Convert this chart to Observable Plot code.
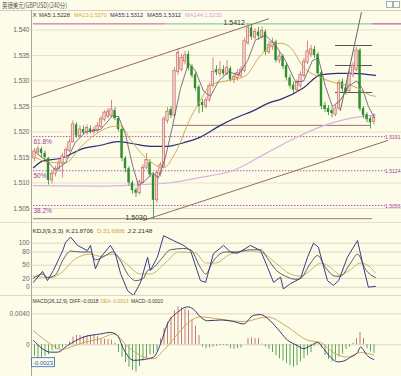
<!DOCTYPE html>
<html><head><meta charset="utf-8">
<script src="https://cdn.jsdelivr.net/npm/d3@7"></script>
<script src="https://cdn.jsdelivr.net/npm/@observablehq/plot@0.6"></script>
<style>
html,body{margin:0;padding:0;background:#fdfce9;}
#wrap{position:relative;width:401px;height:376px;overflow:hidden;background:#fdfce9;}
#wrap svg{position:absolute;left:0;}
</style></head><body><div id="wrap"></div>
<script>
// ---------- candle data (240-minute bars) ----------
const opens  = [1.5148,1.5160,1.5166,1.5158,1.5148,1.5105,1.5118,1.5128,1.5138,1.5150,1.5163,1.5180,1.5214,1.5192,1.5205,1.5198,1.5206,1.5200,1.5202,1.5210,1.5224,1.5230,1.5232,1.5242,1.5226,1.5205,1.5148,1.5128,1.5100,1.5086,1.5080,1.5100,1.5130,1.5140,1.5116,1.5066,1.5118,1.5132,1.5222,1.5244,1.5232,1.5318,1.5322,1.5338,1.5352,1.5328,1.5312,1.5288,1.5258,1.5250,1.5262,1.5290,1.5322,1.5314,1.5322,1.5314,1.5324,1.5302,1.5306,1.5310,1.5320,1.5374,1.5404,1.5385,1.5396,1.5386,1.5396,1.5356,1.5366,1.5376,1.5340,1.5348,1.5330,1.5306,1.5292,1.5282,1.5290,1.5310,1.5336,1.5352,1.5362,1.5352,1.5316,1.5252,1.5246,1.5242,1.5234,1.5246,1.5298,1.5286,1.5280,1.5312,1.5322,1.5360,1.5246,1.5234,1.5226,1.5220];
const highs  = [1.5168,1.5172,1.5170,1.5163,1.5150,1.5122,1.5133,1.5146,1.5158,1.5170,1.5186,1.5222,1.5218,1.5212,1.5212,1.5214,1.5212,1.5210,1.5218,1.5230,1.5242,1.5246,1.5262,1.5248,1.5230,1.5208,1.5152,1.5132,1.5104,1.5090,1.5106,1.5136,1.5158,1.5146,1.5120,1.5124,1.5140,1.5230,1.5248,1.5250,1.5326,1.5364,1.5352,1.5358,1.5358,1.5332,1.5316,1.5292,1.5264,1.5268,1.5296,1.5345,1.5330,1.5338,1.5330,1.5340,1.5328,1.5314,1.5322,1.5328,1.5384,1.5412,1.5410,1.5402,1.5405,1.5406,1.5400,1.5378,1.5384,1.5380,1.5356,1.5352,1.5334,1.5312,1.5298,1.5302,1.5318,1.5344,1.5378,1.5370,1.5368,1.5356,1.5320,1.5258,1.5252,1.5248,1.5252,1.5302,1.5304,1.5292,1.5320,1.5336,1.5366,1.5364,1.5250,1.5238,1.5230,1.5236];
const lows   = [1.5142,1.5155,1.5150,1.5145,1.5096,1.5098,1.5112,1.5122,1.5110,1.5146,1.5160,1.5178,1.5188,1.5188,1.5194,1.5193,1.5196,1.5195,1.5198,1.5206,1.5220,1.5226,1.5228,1.5222,1.5200,1.5142,1.5120,1.5094,1.5078,1.5072,1.5076,1.5098,1.5126,1.5110,1.5030,1.5060,1.5112,1.5128,1.5216,1.5226,1.5228,1.5312,1.5318,1.5332,1.5320,1.5305,1.5280,1.5236,1.5238,1.5245,1.5258,1.5286,1.5310,1.5308,1.5310,1.5310,1.5298,1.5295,1.5300,1.5305,1.5316,1.5370,1.5380,1.5380,1.5380,1.5382,1.5350,1.5352,1.5360,1.5335,1.5334,1.5322,1.5300,1.5284,1.5276,1.5278,1.5286,1.5306,1.5332,1.5346,1.5344,1.5308,1.5244,1.5238,1.5232,1.5228,1.5230,1.5242,1.5278,1.5272,1.5276,1.5306,1.5318,1.5240,1.5226,1.5218,1.5206,1.5214];
const closes = [1.5162,1.5166,1.5158,1.5150,1.5105,1.5118,1.5128,1.5140,1.5152,1.5165,1.5180,1.5215,1.5192,1.5205,1.5198,1.5208,1.5200,1.5204,1.5212,1.5225,1.5238,1.5240,1.5244,1.5226,1.5205,1.5148,1.5128,1.5100,1.5085,1.5080,1.5102,1.5130,1.5145,1.5116,1.5066,1.5120,1.5135,1.5225,1.5240,1.5232,1.5320,1.5355,1.5345,1.5350,1.5325,1.5310,1.5285,1.5250,1.5252,1.5262,1.5290,1.5318,1.5316,1.5322,1.5314,1.5326,1.5302,1.5308,1.5316,1.5322,1.5378,1.5405,1.5386,1.5396,1.5388,1.5398,1.5356,1.5370,1.5376,1.5340,1.5348,1.5328,1.5306,1.5290,1.5282,1.5296,1.5312,1.5338,1.5358,1.5362,1.5350,1.5314,1.5250,1.5244,1.5238,1.5236,1.5246,1.5296,1.5284,1.5278,1.5314,1.5330,1.5360,1.5245,1.5232,1.5224,1.5218,1.5228];

// ---------- moving averages [bar, value] ----------
const ma5 = [[0.3,1.5160],[4,1.5140],[6,1.5125],[8.9,1.5140],[11.7,1.5180],[14.6,1.5200],[18.9,1.5205],[22.3,1.5232],[24,1.5230],[26,1.5195],[28,1.5135],[29.7,1.5095],[31.7,1.5105],[33.7,1.5120],[35.4,1.5110],[37.4,1.5150],[39.4,1.5210],[41.7,1.5285],[44,1.5335],[46,1.5320],[48.3,1.5280],[50.3,1.5270],[52.6,1.5300],[55.4,1.5318],[58.3,1.5312],[60.9,1.5340],[63.1,1.5380],[66,1.5390],[68.9,1.5370],[71.7,1.5340],[74.6,1.5298],[76.9,1.5300],[79.4,1.5340],[81.1,1.5345],[83.1,1.5290],[85.1,1.5250],[87.4,1.5262],[89.7,1.5290],[92,1.5300],[93.7,1.5285],[95.4,1.5250],[97.1,1.5228]];
const ma13 = [[0.3,1.5150],[4.6,1.5140],[8.9,1.5140],[13.1,1.5170],[17.4,1.5195],[21.7,1.5210],[24.6,1.5212],[27.4,1.5185],[30.3,1.5160],[33.1,1.5142],[36.9,1.5130],[40.3,1.5160],[44.6,1.5228],[47.4,1.5262],[50.3,1.5292],[56,1.5302],[60.3,1.5310],[64,1.5345],[67.4,1.5368],[70.3,1.5374],[73.1,1.5366],[76.9,1.5327],[81.7,1.5307],[86.6,1.5295],[91.1,1.5290],[96,1.5272],[97.4,1.5270]];
const ma55 = [[-0.3,1.5130],[2.6,1.5144],[7.4,1.5148],[14,1.5168],[18.9,1.5174],[23.7,1.5181],[28.3,1.5177],[33.1,1.5172],[38,1.5172],[42.6,1.5179],[47.4,1.5190],[53.1,1.5213],[56.9,1.5226],[62.6,1.5242],[67.4,1.5258],[70.3,1.5264],[76.9,1.5287],[81.7,1.5312],[86.6,1.5315],[91.1,1.5315],[97.4,1.5311]];
const ma144 = [[-0.3,1.5095],[18.9,1.5094],[28.3,1.5096],[38,1.5100],[47.4,1.5111],[56.9,1.5125],[66.6,1.5160],[76,1.5193],[81.7,1.5210],[93.1,1.5230],[97.4,1.5233]];

// ---------- drawn studies ----------
const fibLevels = [1.5191, 1.5124, 1.5056];
const fibNames = ["61.8%", "50%", "38.2%"];
const fibValueLabels = ["1.5191", "1.5124", "1.5056"];
const highPrice = 1.5412, lowPrice = 1.5030, midLine = 1.5213;
const upperChannel = [[-0.57, 1.52676], [66.9, 1.54220]];
const lowerChannel = [[31.1, 1.50265], [100.9, 1.51833]];
const steepLine = [[87.4, 1.52422], [93.4, 1.54343]];
const shortLevels = [1.53696, 1.53304, 1.52775];
const priceTicks = [1.505, 1.510, 1.515, 1.520, 1.525, 1.530, 1.535, 1.540];

// ---------- KDJ [bar, value] ----------
const kdjK = [[-0.3,20],[2.3,30],[3.7,22],[6,28],[8,60],[10.3,82],[13.1,80],[16,80],[17.4,62],[20.3,72],[22.3,80],[24.6,60],[26.6,30],[28.9,15],[31.1,20],[32.3,38],[33.7,42],[36,62],[38.9,85],[42.6,88],[44.6,85],[47.4,45],[48.9,30],[51.1,60],[54.6,80],[57.4,80],[61.7,85],[64.6,85],[66.6,65],[68.9,40],[71.7,25],[74.6,18],[76,20],[78.9,55],[80.9,72],[83.1,45],[86,25],[87.4,25],[90.3,55],[92.3,75],[94.6,40],[97.4,22]];
const kdjD = [[-0.3,25],[4.6,22],[8,35],[11.7,65],[16,75],[18.9,70],[22.3,75],[26,55],[30.3,30],[33.1,30],[37.4,55],[41.1,80],[46,78],[48.9,55],[51.7,55],[56,75],[61.7,82],[65.1,78],[68.9,55],[73.1,30],[76,25],[80.3,48],[81.7,55],[84.6,45],[87.4,28],[90.3,40],[93.1,55],[96,45],[97.4,32]];
const kdjJ = [[-0.3,11],[2.3,36],[3.7,15],[5.4,38],[8,82],[8.9,102],[10.3,114],[12.3,95],[15.1,83],[16,95],[17.4,42],[18.9,68],[21.7,95],[23.1,76],[24.6,31],[26.6,-8],[28.3,-19],[30.3,11],[32.3,68],[33.1,38],[35.1,68],[36.9,117],[39.7,106],[42.6,95],[44.6,83],[47.4,15],[48.9,11],[51.1,76],[54,95],[56,80],[58,77],[61.7,95],[64.6,83],[66.6,45],[68.3,11],[70.3,23],[71.1,-4],[73.1,8],[76,20],[78,68],[79.7,100],[81.1,91],[83.7,15],[85.4,4],[86.9,15],[89.4,68],[92.3,106],[94,45],[95.4,0],[97.4,2]];
const kdjTicks = [0, 20, 50, 80, 100];

// ---------- MACD ----------
const macdHist = [-0.0015,-0.0021,-0.0018,-0.0015,-0.0013,-0.0008,-0.0006,-0.0005,-0.0004,-0.0001,0.0004,0.0010,0.0012,0.0012,0.0011,0.0012,0.0011,0.0012,0.0011,0.0008,0.0007,0.0007,0.0006,0.0002,-0.0010,-0.0016,-0.0023,-0.0029,-0.0033,-0.0035,-0.0028,-0.0021,-0.0017,-0.0013,-0.0012,-0.0008,0.0008,0.0021,0.0029,0.0036,0.0044,0.0049,0.0048,0.0046,0.0044,0.0032,0.0024,0.0012,-0.0003,-0.0005,-0.0004,-0.0003,-0.0002,-0.0001,-0.0001,-0.0002,-0.0005,-0.0006,-0.0005,-0.0004,0.0000,0.0008,0.0009,0.0008,0.0008,0.0001,-0.0003,-0.0006,-0.0010,-0.0014,-0.0018,-0.0021,-0.0024,-0.0027,-0.0029,-0.0027,-0.0022,-0.0018,-0.0014,-0.0010,-0.0002,0.0001,-0.0004,-0.0014,-0.0019,-0.0022,-0.0020,-0.0016,-0.0012,-0.0006,-0.0003,0.0002,0.0008,0.0016,0.0008,-0.0005,-0.0009,-0.0011];
const macdDiff = [[-0.3,0.00055],[4.6,-0.00095],[6.6,-0.00095],[9.4,-0.0001],[14,0.0010],[18.9,0.0014],[21.7,0.0016],[23.7,0.0012],[25.4,-0.0005],[28.3,-0.0020],[31.1,-0.0019],[34,-0.0016],[36,0.0001],[38,0.0027],[40.9,0.0042],[43.7,0.0049],[45.4,0.0046],[47.4,0.0036],[49.4,0.0031],[53.1,0.0032],[56.9,0.0030],[59.7,0.0027],[62.6,0.0038],[64.6,0.0039],[66.6,0.0034],[69.4,0.0021],[72.3,0.0006],[75.1,-0.0001],[76.9,-0.0005],[78.9,-0.0001],[80.9,0.0003],[82.6,-0.0005],[84.6,-0.0016],[86.6,-0.0022],[88.3,-0.0021],[90.3,-0.0016],[92.3,-0.0010],[93.1,-0.0003],[95.1,-0.0014],[96.9,-0.0019]];
const macdDea = [[-0.3,0.0018],[4.6,0.0001],[7.4,-0.0006],[10.3,-0.0003],[14,0.0003],[18.9,0.0008],[22.6,0.0014],[26.6,-0.0002],[30.3,-0.0014],[34,-0.0018],[36.9,-0.0007],[40.9,0.0014],[44.6,0.0031],[47.4,0.0036],[53.1,0.0033],[59.7,0.0030],[66.6,0.0036],[72.3,0.0023],[78,0.0006],[81.7,0.0003],[85.4,-0.0010],[89.4,-0.0016],[93.1,-0.0010],[96.9,-0.0013]];
const macdTicks = [0, 0.004];
const macdMarker = -0.0023;

// ---------- build ----------
const candles = closes.map((c, i) => ({i, o: opens[i], h: highs[i], l: lows[i], c}));
const upC = candles.filter(d => d.c >= d.o), dnC = candles.filter(d => d.c < d.o);
const hist = macdHist.map((v, i) => ({i, v}));
const X = {domain: [-0.571, 104.857], axis: null, label: null};
const common = {width: 401, marginLeft: 32, marginRight: 0, marginTop: 0, marginBottom: 0, x: X,
  style: {background: "transparent", overflow: "visible"}};
const px = d => d[0], py = d => d[1];
const UP = "#c86a6a", UPF = "#f3d8d0", DN = "#2f8f2f";
const FONT = "Liberation Sans, sans-serif";
const axisFont = {tickSize: 0, tickPadding: 3, fontSize: 6.5, fill: "#666", fontFamily: FONT, label: null};
const hw = 0.34;

const main = Plot.plot({...common, height: 212,
  y: {domain: [1.502255, 1.543824], axis: null, label: null},
  marks: [
    Plot.gridY(priceTicks, {stroke: "#e6e1c6", strokeOpacity: 1}),
    Plot.axisY(priceTicks, {...axisFont, tickFormat: d3.format(".3f")}),
    Plot.ruleY(fibLevels, {x1: -0.3, x2: 100.3, stroke: "#a85aa8", strokeDasharray: "1.5,1.5"}),
    Plot.ruleY([lowPrice], {x1: -0.3, x2: 96.6, stroke: "#9a7a70"}),
    Plot.ruleY([midLine], {x1: 39.7, x2: 96, stroke: "#a07068"}),
    Plot.ruleY([highPrice], {x1: -0.3, x2: 37.4, stroke: "#c25a9e"}),
    Plot.ruleY([highPrice], {x1: 37.4, x2: 96.6, stroke: "#6cc48c"}),
    Plot.ruleY([highPrice], {x1: 96.6, x2: 104.857, stroke: "#a83a90"}),
    Plot.line(upperChannel, {x: px, y: py, stroke: "#9a6a62", strokeWidth: 1}),
    Plot.line(lowerChannel, {x: px, y: py, stroke: "#9a6a62", strokeWidth: 1}),
    Plot.ruleY(shortLevels, {x1: 86, x2: 96.6, stroke: "#555", strokeWidth: 1}),
    Plot.line(ma144, {x: px, y: py, stroke: "#d7b4e0", strokeWidth: 1.2, curve: "monotone-x"}),
    Plot.line(ma55, {x: px, y: py, stroke: "#2c2c78", strokeWidth: 1.2, curve: "monotone-x"}),
    Plot.ruleX(upC, {x: "i", y1: "l", y2: "h", stroke: UP, strokeWidth: 0.8}),
    Plot.ruleX(dnC, {x: "i", y1: "l", y2: "h", stroke: DN, strokeWidth: 0.8}),
    Plot.rect(upC, {x1: d => d.i - hw, x2: d => d.i + hw, y1: "o", y2: "c", fill: UPF, stroke: UP, strokeWidth: 0.7}),
    Plot.rect(dnC, {x1: d => d.i - hw, x2: d => d.i + hw, y1: "o", y2: "c", fill: DN}),
    Plot.line(ma13, {x: px, y: py, stroke: "#d2aa5a", strokeWidth: 1, curve: "monotone-x"}),
    Plot.line(ma5, {x: px, y: py, stroke: "#555566", strokeWidth: 0.8}),
    Plot.line(steepLine, {x: px, y: py, stroke: "#666", strokeWidth: 1}),
    Plot.text(fibNames, {x: -0.3, y: (d, i) => fibLevels[i], text: d => d, textAnchor: "start", dy: 5, fill: "#a040a0", fontSize: 6.5, fontFamily: FONT}),
    Plot.text([highPrice], {x: 54, y: d => d, text: d => d.toFixed(4), textAnchor: "start", dy: -1, fill: "#333", fontSize: 7, fontFamily: FONT}),
    Plot.text([lowPrice], {x: 26, y: d => d, text: d => d.toFixed(4), textAnchor: "start", dy: -1, fill: "#333", fontSize: 7, fontFamily: FONT})
  ]});
main.style.top = "10px";

const kdj = Plot.plot({...common, height: 74,
  y: {domain: [-21.1, 147], axis: null, label: null},
  marks: [
    Plot.gridY(kdjTicks, {stroke: "#dcd8c0", strokeOpacity: 1}),
    Plot.axisY(kdjTicks, {...axisFont, tickFormat: d => String(d)}),
    Plot.line(kdjD, {x: px, y: py, stroke: "#cdb463", strokeWidth: 1, curve: "monotone-x"}),
    Plot.line(kdjK, {x: px, y: py, stroke: "#5a5a6e", strokeWidth: 1, curve: "monotone-x"}),
    Plot.line(kdjJ, {x: px, y: py, stroke: "#3c3c86", strokeWidth: 1})
  ]});
kdj.style.top = "222px";

const macd = Plot.plot({...common, height: 80,
  y: {domain: [-0.00409, 0.006232], axis: null, label: null},
  marks: [
    Plot.gridY(macdTicks, {stroke: "#dcd8c0", strokeOpacity: 1}),
    Plot.axisY(macdTicks, {...axisFont, tickFormat: d => d === 0 ? "0" : d.toFixed(4)}),
    Plot.ruleX(hist.filter(d => d.v >= 0), {x: "i", y1: () => 0, y2: "v", stroke: "#c47a7a", strokeWidth: 1}),
    Plot.ruleX(hist.filter(d => d.v < 0), {x: "i", y1: () => 0, y2: "v", stroke: "#5aa55a", strokeWidth: 1}),
    Plot.line(macdDea, {x: px, y: py, stroke: "#cda75a", strokeWidth: 1, curve: "monotone-x"}),
    Plot.line(macdDiff, {x: px, y: py, stroke: "#3a3a6a", strokeWidth: 1, curve: "monotone-x"})
  ]});
macd.style.top = "296px";

const wrap = document.getElementById("wrap");
wrap.append(main, kdj, macd);

// ---------- overlay: headers, separators ----------
const ov = d3.select(wrap).append("svg").attr("width", 401).attr("height", 376)
  .style("top", "0px").style("pointer-events", "none");
ov.append("line").attr("x1", 0).attr("x2", 401).attr("y1", 10.5).attr("y2", 10.5).attr("stroke", "#d4d0bc");
ov.append("line").attr("x1", 0).attr("x2", 401).attr("y1", 222.5).attr("y2", 222.5).attr("stroke", "#e4e0cc");
ov.append("line").attr("x1", 0).attr("x2", 401).attr("y1", 295.5).attr("y2", 295.5).attr("stroke", "#dcd8c4");
ov.append("line").attr("x1", 31.5).attr("x2", 31.5).attr("y1", 10).attr("y2", 376).attr("stroke", "#a8a8a0");
ov.append("rect").attr("x", 386.5).attr("y", 1.5).attr("width", 6).attr("height", 6).attr("fill", "none").attr("stroke", "#9fb0c8");
ov.append("rect").attr("x", 393.5).attr("y", 1.5).attr("width", 6).attr("height", 6).attr("fill", "none").attr("stroke", "#9fb0c8");
function t(x, y, s, color, len, size = 6.2, fam = FONT) {
  const e = ov.append("text").attr("x", x).attr("y", y).attr("fill", color).attr("font-size", size)
    .attr("font-family", fam).text(s);
  if (len) e.attr("textLength", len).attr("lengthAdjust", "spacingAndGlyphs");
}
t(2, 8, "英镑美元(GBPUSD)(240分)", "#555", 65, 7, "Noto Sans CJK SC, sans-serif");
t(32.5, 16.5, "X", "#333");
t(39, 16.5, "MA5:1.5228", "#333", 31);
t(74, 16.5, "MA13:1.5270", "#d6ac3a", 33);
t(110, 16.5, "MA55:1.5312", "#2c2c78", 33);
t(147, 16.5, "MA55:1.5312", "#2c2c78", 34);
t(185, 16.5, "MA144:1.5233", "#d8a0dc", 37);
t(32.5, 232.5, "KDJ(9,3,3)", "#333", 31);
t(66, 232.5, "K:21.8706", "#333", 27);
t(97, 232.5, "D:31.6986", "#cda640", 28);
t(127.5, 232.5, "J:2.2148", "#333", 25);
t(32.5, 302.5, "MACD(26,12,9)", "#333", 35, 5.3);
t(69.5, 302.5, "DIFF:-0.0018", "#333", 29, 5.3);
t(100.5, 302.5, "DEA:-0.0013", "#cda640", 28, 5.3);
t(131, 302.5, "MACD:-0.0010", "#333", 32, 5.3);
// fib price labels at right edge
const ys = main.scale("y");
fibValueLabels.forEach((s, k) => t(385, 10 + ys.apply(fibLevels[k]) + 3, s, "#a040a0", 15.5, 5.2));
// marker box on MACD axis
const my = 296 + macd.scale("y").apply(macdMarker);
ov.append("rect").attr("x", 31.5).attr("y", my - 4.5).attr("width", 23).attr("height", 9)
  .attr("fill", "#fdfce9").attr("stroke", "#5a7ec0");
t(33, my + 2.5, macdMarker.toFixed(4), "#2a58b0", 20, 6);
</script></body></html>
